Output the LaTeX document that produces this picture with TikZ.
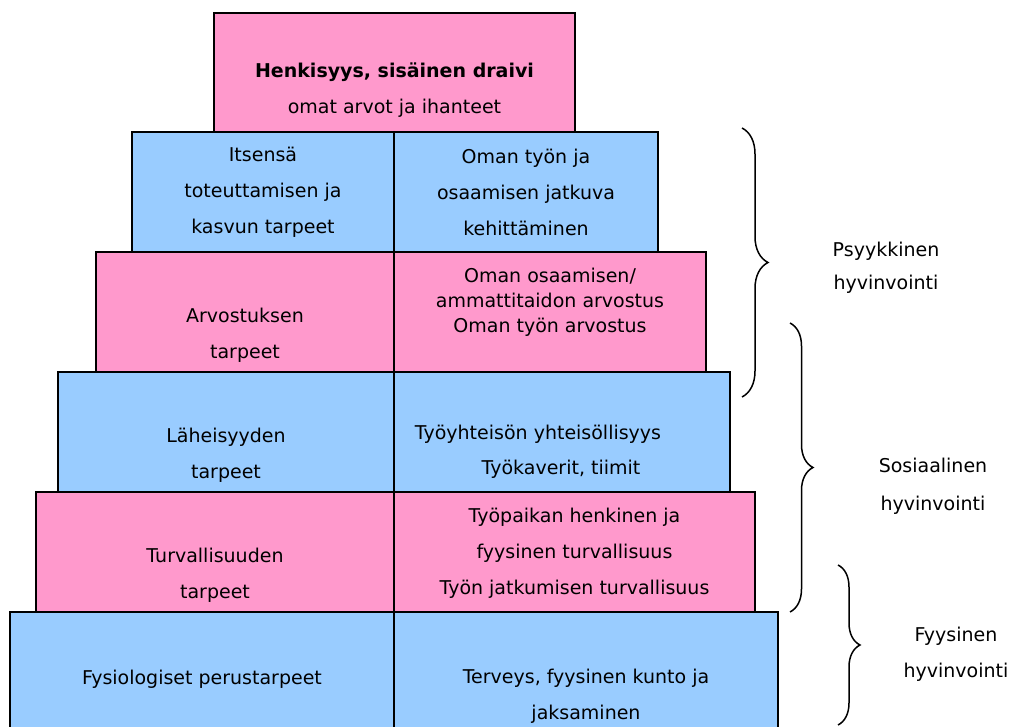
\documentclass[tikz,border=0pt]{standalone}
\usepackage{fontspec}
\setmainfont{DejaVu Sans}
\usepackage{tikz}
\usetikzlibrary{positioning,decorations.pathreplacing}
\definecolor{pinkbox}{RGB}{255,153,204}
\definecolor{bluebox}{RGB}{153,204,255}

\begin{document}
\begin{tikzpicture}[x=1pt, y=-1pt, font=\fontsize{19}{36}\selectfont, tier/.style={draw=black, line width=1.5pt, minimum height=120pt, inner sep=0pt}, txt/.style={align=center, inner sep=0pt}, brc/.style={decorate, decoration={brace, amplitude=#1}, line width=1.5pt}]
\useasboundingbox (0,0) rectangle (1013,727);
% pyramid, bottom tier first
\node[tier, fill=bluebox, minimum width=384pt, minimum height=140pt] (fysL) at (202,682) {};
\node[tier, fill=bluebox, minimum width=384pt, minimum height=140pt] (fysR) at (586,682) {};
\node[tier, fill=pinkbox, minimum width=358pt] (turL) at (215,552) {};
\node[tier, fill=pinkbox, minimum width=361pt] (turR) at (574.5,552) {};
\node[tier, fill=bluebox, minimum width=336pt] (lahL) at (226,432) {};
\node[tier, fill=bluebox, minimum width=336pt] (lahR) at (562,432) {};
\node[tier, fill=pinkbox, minimum width=298pt] (arvL) at (245,312) {};
\node[tier, fill=pinkbox, minimum width=312pt] (arvR) at (550,312) {};
\node[tier, fill=bluebox, minimum width=262pt] (itsL) at (263,192) {};
\node[tier, fill=bluebox, minimum width=264pt] (itsR) at (526,192) {};
\node[tier, fill=pinkbox, minimum width=361pt, minimum height=119pt] (henki) at (394.5,72.5) {};
% texts
\node[txt] (henkiTxt) at (394.5,90) {\textbf{Henkisyys, sisäinen draivi}\\omat arvot ja ihanteet};
\node[txt] (itsLTxt) at (263,192) {Itsensä\\toteuttamisen ja\\kasvun tarpeet};
\node[txt] (itsRTxt) at (526,192) {Oman työn ja\\osaamisen jatkuva\\kehittäminen};
\node[txt] (arvLTxt) at (245,335) {Arvostuksen\\tarpeet};
\node[txt, font=\fontsize{19}{25}\selectfont] (arvRTxt) at (550,302) {Oman osaamisen/\\ammattitaidon arvostus\\Oman työn arvostus};
\node[txt] (lahLTxt) at (226,455) {Läheisyyden\\tarpeet};
\node[txt] (lahRTxtA) at (538,434) {Työyhteisön yhteisöllisyys};
\node[txt] (lahRTxtB) at (561,469) {Työkaverit, tiimit};
\node[txt] (turLTxt) at (215,575) {Turvallisuuden\\tarpeet};
\node[txt] (turRTxt) at (574.5,553) {Työpaikan henkinen ja\\fyysinen turvallisuus\\Työn jatkumisen turvallisuus};
\node[txt] (fysLTxt) at (202,679) {Fysiologiset perustarpeet};
\node[txt] (fysRTxt) at (586,696) {Terveys, fyysinen kunto ja\\jaksaminen};
% braces
\coordinate (psyA) at (742,128);
\coordinate (psyB) at (742,397);
\coordinate (sosA) at (790,323);
\coordinate (sosB) at (790,612);
\coordinate (fyyA) at (838,565);
\coordinate (fyyB) at (838,725);
\draw[brc=26pt] (psyA) -- (psyB);
\draw[brc=23pt] (sosA) -- (sosB);
\draw[brc=22pt] (fyyA) -- (fyyB);
\node[txt, font=\fontsize{19}{33}\selectfont] (psy) at (886,268) {Psyykkinen\\hyvinvointi};
\node[txt, font=\fontsize{19}{38}\selectfont] (sos) at (933,486) {Sosiaalinen\\hyvinvointi};
\node[txt] (fyy) at (956,654) {Fyysinen\\hyvinvointi};
\end{tikzpicture}
\end{document}
